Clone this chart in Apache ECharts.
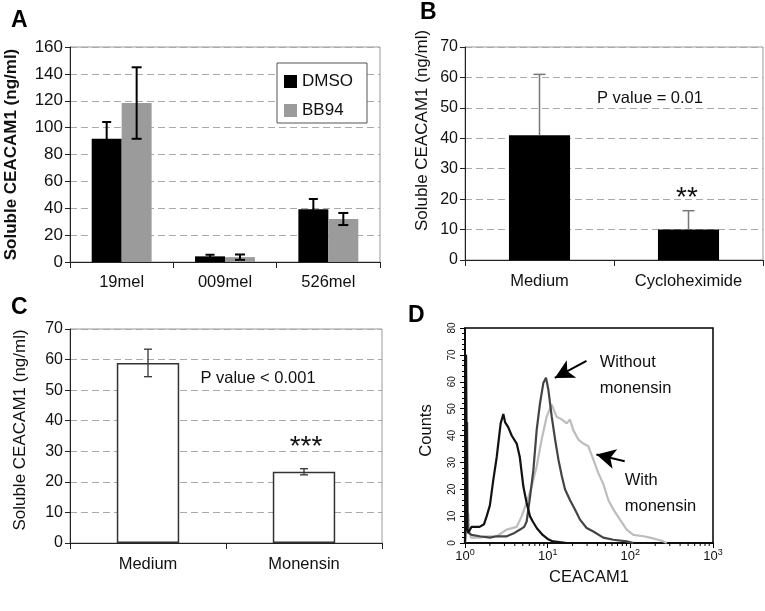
<!DOCTYPE html>
<html><head><meta charset="utf-8">
<script src="https://cdn.jsdelivr.net/npm/echarts@6/dist/echarts.min.js"></script>
<style>html,body{margin:0;padding:0;background:#fff}#c{width:765px;height:611px}</style>
</head><body><div id="c"></div>
<script>
// ---------- Data ----------
const catsA = ['19mel', '009mel', '526mel'];
const dmso = [91.8, 4.2, 39.2];
const dmsoErr = [12.4, 1.2, 7.7];
const bb94 = [118.3, 3.6, 32.0];
const bb94Err = [26.6, 2.0, 4.5];

const catsB = ['Medium', 'Cycloheximide'];
const valsB = [41.0, 10.0];
const errB = [20.0, 6.2];

const catsC = ['Medium', 'Monensin'];
const valsC = [58.9, 23.3];
const errC = [4.5, 1.0];

// Flow cytometry histograms (x: CEACAM1 fluorescence, y: counts)
const isotype = [[1.0,0],[1.03,70],[1.045,70],[1.06,5],[1.1,4],[1.2,6],[1.5,6],[1.7,7],[1.83,10],[2.0,14],[2.2,23.5],[2.42,32],[2.7,44.5],[2.91,48],[3.05,45],[3.34,43],[3.67,40],[4.22,37],[4.6,32],[5.08,21],[5.56,15],[6.1,10],[6.6,8],[7.4,5.5],[8.7,3],[10,1.5],[11.6,0.6],[14,0.3],[17,0]];
const withoutMonensin = [[1.0,0],[1.06,45],[1.08,4],[1.2,3],[1.5,2.5],[2.0,2],[2.42,2.5],[3.2,2.5],[3.84,3.5],[4.63,5],[5.2,6],[5.57,8],[6.11,17],[6.71,27],[7.36,42],[8.08,52],[8.86,59.5],[9.55,61.5],[10.2,57],[11.2,47],[12.3,38.5],[13.5,31],[14.8,25],[16.2,20],[18.6,16],[21.4,12.5],[24.6,8.7],[29.6,5.6],[35.7,4.3],[47.1,2],[62.3,1.2],[90.3,0.6],[109,0]];
const withMonensin = [[1.0,0],[1.1,11],[1.12,5],[1.18,2],[1.52,2],[1.83,2.5],[2.42,2.5],[3.19,5],[4.22,6],[4.85,10],[5.57,15],[6.4,21],[7.36,28.5],[8.46,38.5],[9.72,47],[11.2,51.5],[12.8,47],[14.8,46],[17,44.5],[18.6,46],[20.4,42],[23.5,38.5],[27,37],[31,36],[35.7,31],[41,26],[47.1,22],[54.2,16],[62.3,12.5],[75,8.7],[90.3,5],[109,3],[144,2.5],[173,2],[218,1.2],[251,0.6],[275,0]];
const arrowWithout = [[29.5, 67.8], [12.2, 61.4]];
const arrowWith = [[85.5, 30.4], [38.9, 32.9]];
const labelWithout = [42.7, 62.3];
const labelWith = [85.5, 18.4];
const logMinorDigits = [2,3,4,5,6,7,8,9];
const logDecades = [1, 10, 100];

// ---------- Helpers ----------
const FONT = "'Liberation Sans', Arial, Helvetica, sans-serif";
const minorX = [];
logDecades.forEach(d => logMinorDigits.forEach(m => minorX.push([d * m, 0])));

function errRender(offsetFrac, capW, color, lw, upOnly) {
  return function (params, api) {
    const i = api.value(0), v = api.value(1), e = api.value(2);
    const c = api.coord([i, v]);
    const band = api.size([1, 0])[0];
    const x = c[0] + offsetFrac * band;
    const top = api.coord([i, v + e])[1];
    const bot = upOnly ? c[1] : api.coord([i, v - e])[1];
    const st = { stroke: color, lineWidth: lw };
    const ch = [
      { type: 'line', shape: { x1: x, y1: top, x2: x, y2: bot }, style: st },
      { type: 'line', shape: { x1: x - capW / 2, y1: top, x2: x + capW / 2, y2: top }, style: st }
    ];
    if (!upOnly) ch.push({ type: 'line', shape: { x1: x - capW / 2, y1: bot, x2: x + capW / 2, y2: bot }, style: st });
    return { type: 'group', children: ch };
  };
}

const split = { show: true, lineStyle: { color: '#aaa', type: [7, 4], width: 1 } };
function catAxis(gi, data, margin) {
  return {
    gridIndex: gi, type: 'category', data: data,
    axisLine: { lineStyle: { color: '#222', width: 1 } },
    axisTick: { show: true, length: 6, lineStyle: { color: '#222' } },
    axisLabel: { fontSize: 16.5, color: '#111', margin: margin, fontFamily: FONT }
  };
}
function valAxis(gi, max, interval, name, bold, nameGap, fs, pad) {
  return {
    gridIndex: gi, type: 'value', min: 0, max: max, interval: interval,
    axisLine: { show: true, lineStyle: { color: '#222', width: 1 } },
    axisTick: { show: true, length: 5, lineStyle: { color: '#222' } },
    axisLabel: { fontSize: fs, color: '#111', margin: 7, fontFamily: FONT },
    splitLine: split,
    name: name, nameLocation: 'middle', nameGap: nameGap,
    nameTextStyle: { fontSize: 17, fontWeight: bold ? 'bold' : 'normal', color: '#111', fontFamily: FONT, padding: pad || 0 }
  };
}

const chart = echarts.init(document.getElementById('c'), null, { renderer: 'canvas' });
const option = {
  animation: false,
  backgroundColor: '#fff',
  textStyle: { fontFamily: FONT },
  grid: [
    { left: 70, top: 47, width: 310, height: 215, show: true, borderColor: '#999', borderWidth: 1 },
    { left: 465, top: 47, width: 298, height: 213, show: true, borderColor: '#999', borderWidth: 1 },
    { left: 70, top: 329, width: 312, height: 214, show: true, borderColor: '#999', borderWidth: 1 },
    { left: 465, top: 328, width: 248, height: 215, show: true, borderColor: '#000', borderWidth: 1.5 }
  ],
  legend: {
    data: ['DMSO', 'BB94'], orient: 'vertical', left: 277, top: 63,
    backgroundColor: '#fff', borderColor: '#555', borderWidth: 1,
    padding: [10, 14, 4, 7], itemWidth: 13, itemHeight: 13, itemGap: 12, icon: 'rect',
    textStyle: { fontSize: 17, color: '#111', fontFamily: FONT }
  },
  xAxis: [
    catAxis(0, catsA, 12),
    catAxis(1, catsB, 13),
    catAxis(2, catsC, 13),
    {
      gridIndex: 3, type: 'log', logBase: 10, min: 1, max: 1000, interval: 1,
      axisLine: { lineStyle: { color: '#000', width: 1.5 } },
      axisTick: { show: true, length: 5, lineStyle: { color: '#000', width: 1 } },
      splitLine: { show: false },
      axisLabel: {
        margin: 5, color: '#111', fontFamily: FONT,
        formatter: v => '{b|10}{s|' + Math.round(Math.log10(v)) + '}',
        rich: { b: { fontSize: 13, fontFamily: FONT, color: '#111' }, s: { fontSize: 9, fontFamily: FONT, color: '#111', padding: [0, 0, 8, 0] } }
      },
      name: 'CEACAM1', nameLocation: 'middle', nameGap: 26,
      nameTextStyle: { fontSize: 16.5, color: '#111', fontFamily: FONT }
    }
  ],
  yAxis: [
    valAxis(0, 160, 20, 'Soluble CEACAM1 (ng/ml)', true, 50, 17),
    valAxis(1, 70, 10, 'Soluble CEACAM1 (ng/ml)', false, 34, 16, [0, 0, 0, 46]),
    valAxis(2, 70, 10, 'Soluble CEACAM1 (ng/ml)', false, 41, 16, [0, 0, 0, 12]),
    {
      gridIndex: 3, type: 'value', min: 0, max: 80, interval: 10,
      axisLine: { show: true, lineStyle: { color: '#000', width: 1.5 } },
      axisTick: { show: true, length: 5, lineStyle: { color: '#000' } },
      minorTick: { show: true, splitNumber: 5, length: 3, lineStyle: { color: '#000' } },
      splitLine: { show: false },
      axisLabel: { rotate: 90, fontSize: 10, color: '#111', margin: 8, fontFamily: FONT },
      name: 'Counts', nameLocation: 'middle', nameGap: 30,
      nameTextStyle: { fontSize: 16.5, color: '#111', fontFamily: FONT, padding: [0, 0, 0, 10] }
    }
  ],
  series: [
    { name: 'DMSO', type: 'bar', xAxisIndex: 0, yAxisIndex: 0, data: dmso, barGap: '0%', barCategoryGap: '42%', itemStyle: { color: '#000' } },
    { name: 'BB94', type: 'bar', xAxisIndex: 0, yAxisIndex: 0, data: bb94, itemStyle: { color: '#9b9b9b' } },
    { type: 'custom', xAxisIndex: 0, yAxisIndex: 0, z: 5, renderItem: errRender(-0.145, 9, '#000', 2, false),
      data: catsA.map((c, i) => [i, dmso[i], dmsoErr[i]]), encode: { x: 0, y: 1 } },
    { type: 'custom', xAxisIndex: 0, yAxisIndex: 0, z: 5, renderItem: errRender(0.145, 10, '#000', 2, false),
      data: catsA.map((c, i) => [i, bb94[i], bb94Err[i]]), encode: { x: 0, y: 1 } },

    { type: 'bar', xAxisIndex: 1, yAxisIndex: 1, data: valsB, barWidth: '41%', itemStyle: { color: '#000' } },
    { type: 'custom', xAxisIndex: 1, yAxisIndex: 1, z: 5, renderItem: errRender(0, 12, '#777', 1.5, true),
      data: catsB.map((c, i) => [i, valsB[i], errB[i]]), encode: { x: 0, y: 1 } },

    { type: 'bar', xAxisIndex: 2, yAxisIndex: 2, data: valsC, barWidth: '40%', itemStyle: { color: '#fff', borderColor: '#333', borderWidth: 1.5 } },
    { type: 'custom', xAxisIndex: 2, yAxisIndex: 2, z: 5, renderItem: errRender(0, 8, '#333', 1.3, false),
      data: catsC.map((c, i) => [i, valsC[i], errC[i]]), encode: { x: 0, y: 1 } },

    { type: 'line', xAxisIndex: 3, yAxisIndex: 3, data: withMonensin, showSymbol: false, lineStyle: { color: '#bdbdbd', width: 2.2 }, z: 2 },
    { type: 'line', xAxisIndex: 3, yAxisIndex: 3, data: withoutMonensin, showSymbol: false, lineStyle: { color: '#444', width: 2.2 }, z: 3,
      markLine: {
        silent: true, symbol: ['none', 'arrow'], symbolSize: [15, 19], label: { show: false },
        lineStyle: { color: '#000', width: 2, type: 'solid' },
        data: [
          [{ coord: arrowWithout[0] }, { coord: arrowWithout[1] }],
          [{ coord: arrowWith[0] }, { coord: arrowWith[1] }]
        ]
      },
      markPoint: {
        silent: true, symbol: 'circle', symbolSize: 0,
        label: { show: true, position: 'right', distance: 0, fontSize: 16.5, lineHeight: 26, color: '#111', fontFamily: FONT, align: 'left' },
        data: [
          { coord: labelWithout, label: { formatter: 'Without\nmonensin' } },
          { coord: labelWith, label: { formatter: 'With\nmonensin' } }
        ]
      }
    },
    { type: 'line', xAxisIndex: 3, yAxisIndex: 3, data: isotype, showSymbol: false, lineStyle: { color: '#111', width: 2.2 }, z: 4 },
    { type: 'custom', xAxisIndex: 3, yAxisIndex: 3, z: 5, data: minorX, encode: { x: 0, y: 1 },
      renderItem: function (params, api) {
        const p = api.coord([api.value(0), 0]);
        return { type: 'line', shape: { x1: p[0], y1: p[1], x2: p[0], y2: p[1] + 3 }, style: { stroke: '#000', lineWidth: 1 } };
      } }
  ],
  graphic: [
    { type: 'text', left: 11, top: 9, style: { text: 'A', font: 'bold 23px ' + FONT, fill: '#000' } },
    { type: 'text', left: 420, top: 1, style: { text: 'B', font: 'bold 23px ' + FONT, fill: '#000' } },
    { type: 'text', left: 11, top: 296, style: { text: 'C', font: 'bold 23px ' + FONT, fill: '#000' } },
    { type: 'text', left: 408, top: 304, style: { text: 'D', font: 'bold 23px ' + FONT, fill: '#000' } },
    { type: 'text', x: 650, y: 98, style: { text: 'P value = 0.01', font: '16.5px ' + FONT, fill: '#111', textAlign: 'center', textVerticalAlign: 'middle' } },
    { type: 'text', x: 258, y: 378, style: { text: 'P value < 0.001', font: '16.5px ' + FONT, fill: '#111', textAlign: 'center', textVerticalAlign: 'middle' } },
    { type: 'text', x: 687, y: 198, style: { text: '**', font: '28px ' + FONT, fill: '#111', textAlign: 'center', textVerticalAlign: 'middle' } },
    { type: 'text', x: 306, y: 447, style: { text: '***', font: '28px ' + FONT, fill: '#111', textAlign: 'center', textVerticalAlign: 'middle' } }
  ]
};
chart.setOption(option);
</script>
</body></html>
